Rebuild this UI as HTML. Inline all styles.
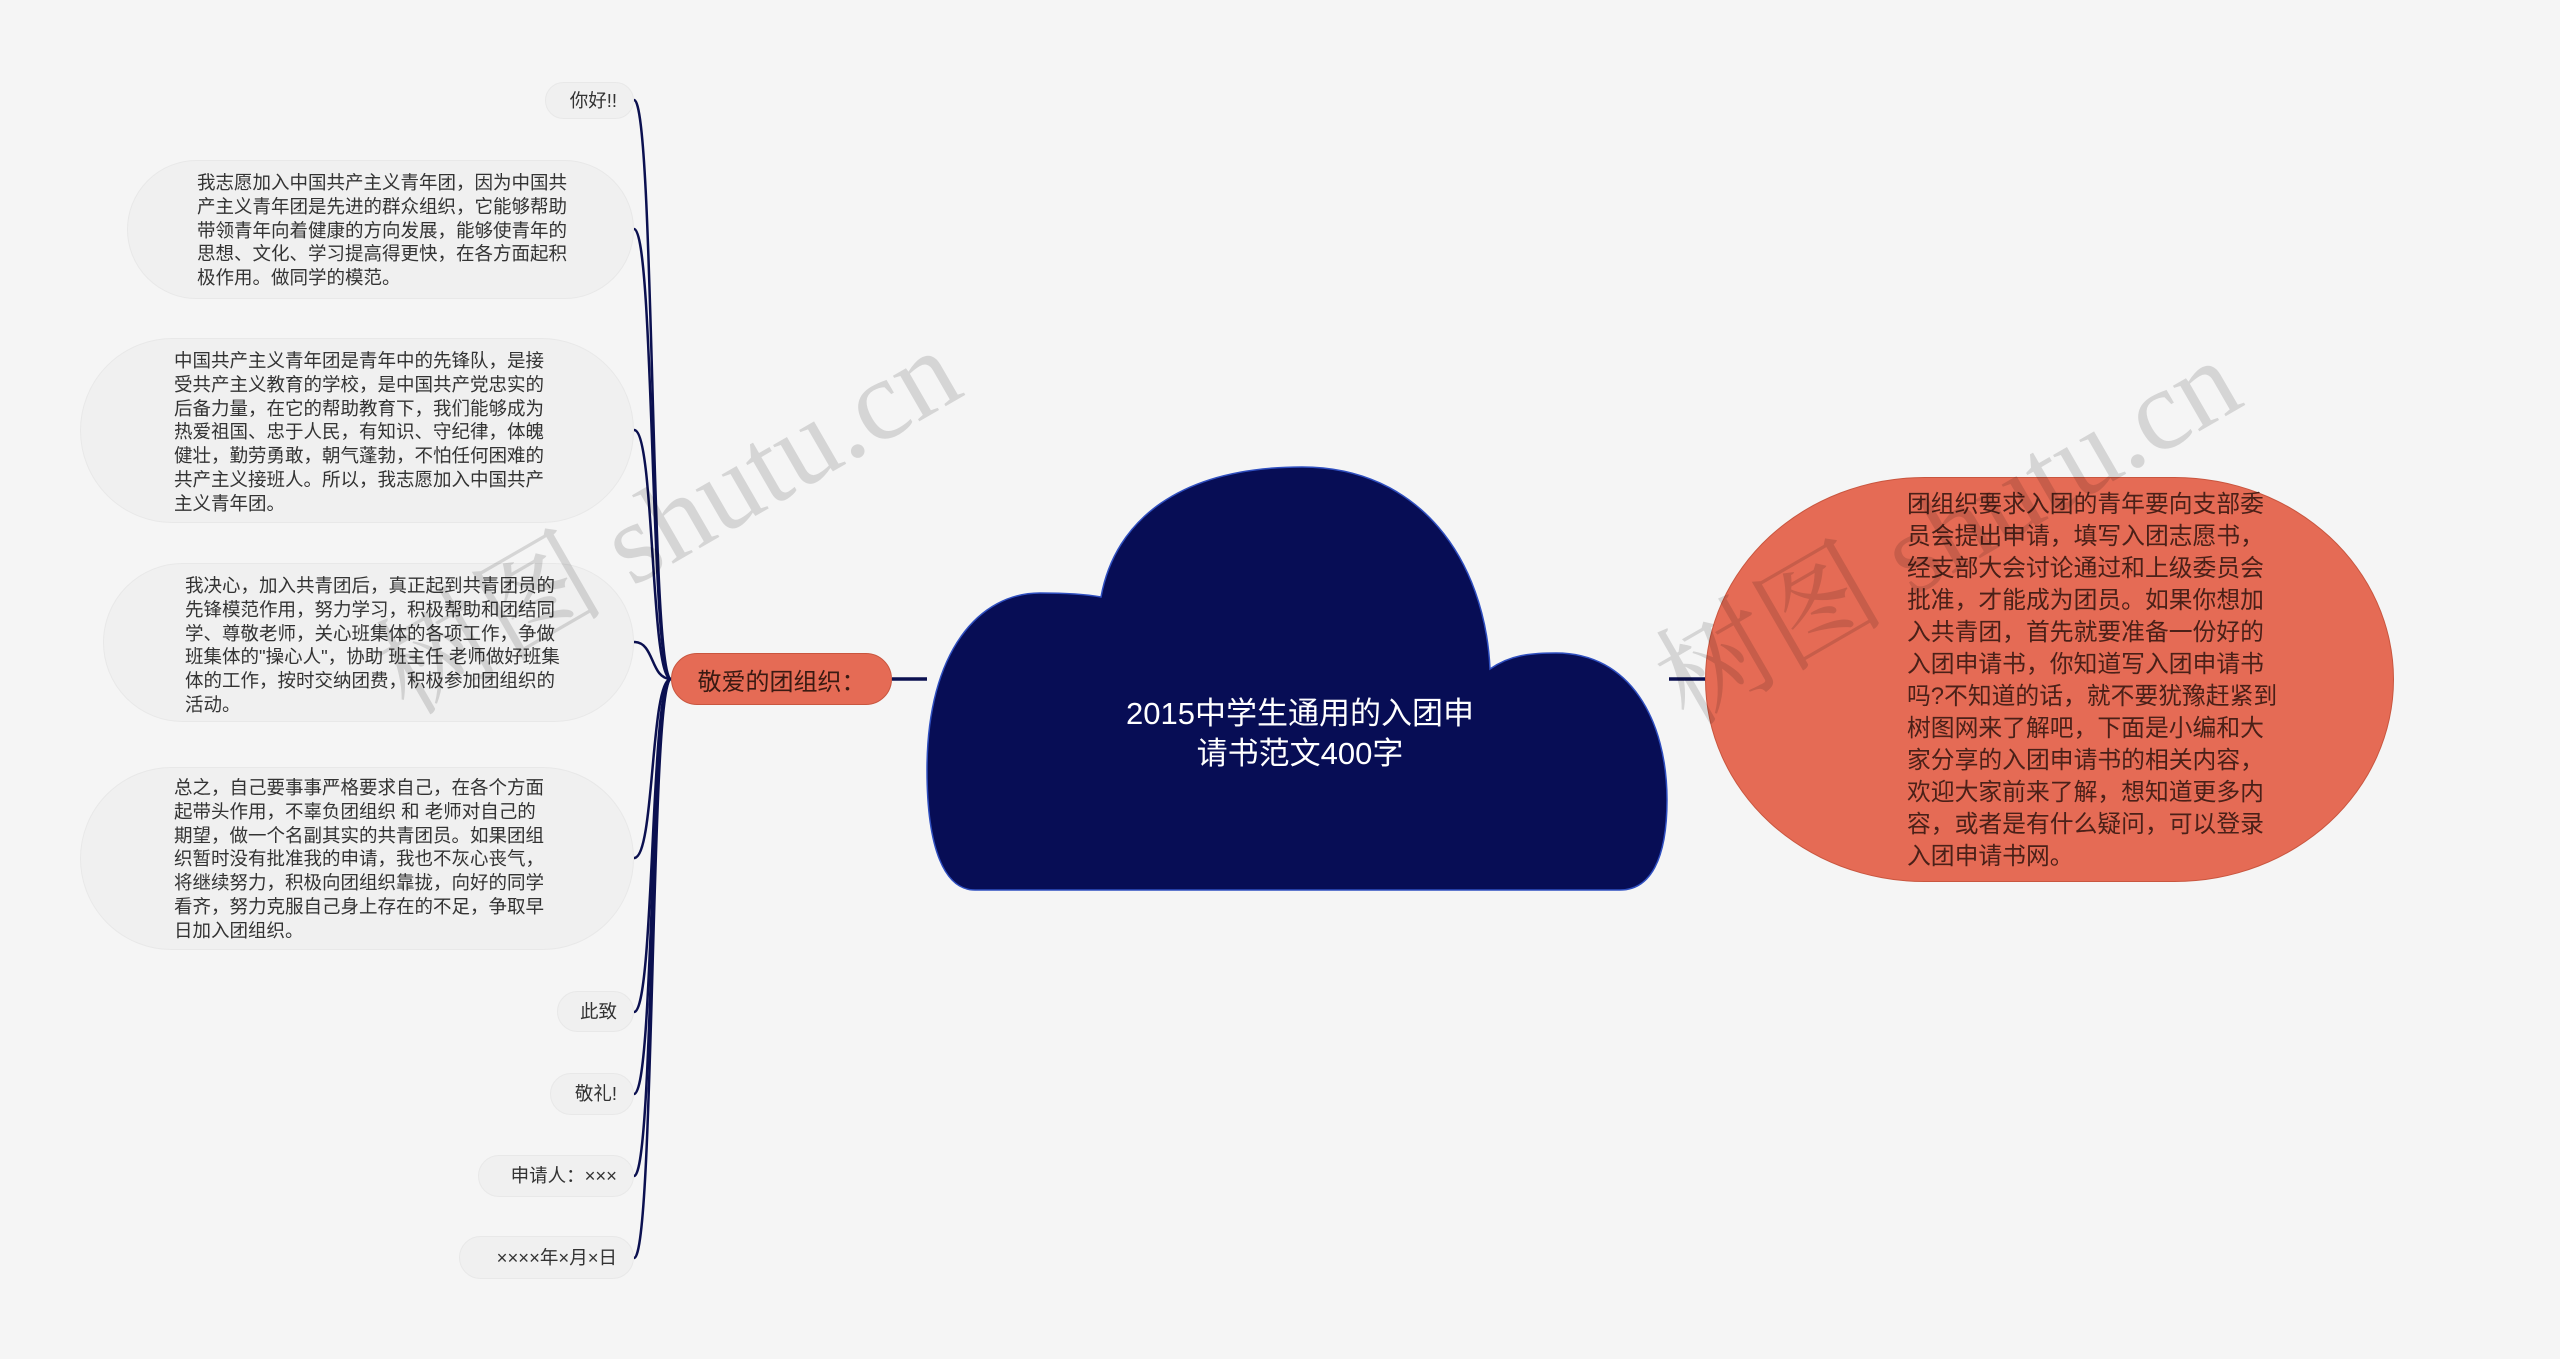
<!DOCTYPE html>
<html><head><meta charset="utf-8"><style>
body{margin:0;width:2560px;height:1359px;background:#f5f5f5;position:relative;overflow:hidden;font-family:"Liberation Sans","Noto Sans CJK SC",sans-serif;}
.leaf{position:absolute;background:#f0f0f0;border:1.5px solid #e8e8e8;border-radius:999px;box-sizing:border-box;color:#333;font-size:18.5px;line-height:23.8px;}
.s{display:flex;align-items:center;justify-content:flex-end;padding-right:16px;}
.t{position:absolute;}
.wm{position:absolute;font-family:"Liberation Serif","Noto Serif CJK SC",serif;font-size:115px;color:rgba(0,0,0,0.13);transform:rotate(-30deg);white-space:nowrap;}
</style></head><body>
<svg width="2560" height="1359" style="position:absolute;left:0;top:0">
<g fill="none" stroke="#0b1050" stroke-width="2.5">
<path d="M671 679 C650 679 655 100 634 100"/>
<path d="M671 679 C650 679 655 229 634 229"/>
<path d="M671 679 C650 679 655 430 634 430"/>
<path d="M671 679 C650 679 655 642 634 642"/>
<path d="M671 679 C650 679 655 858 634 858"/>
<path d="M671 679 C650 679 655 1012 634 1012"/>
<path d="M671 679 C650 679 655 1094 634 1094"/>
<path d="M671 679 C650 679 655 1176 634 1176"/>
<path d="M671 679 C650 679 655 1258 634 1258"/>
<path d="M892 679 L927 679" stroke-width="3.5"/>
<path d="M1669 679 L1705 679" stroke-width="3.5"/>
</g>
<path d="M927 770 C927 650 980 593 1040 593 C1070 593 1090 595 1101 597 C1115 520 1180 467 1302 467 C1420 467 1485 560 1490 669 C1510 655 1530 653 1556 653 C1630 653 1667 720 1667 800 C1667 860 1650 890 1620 890 L975 890 C945 890 927 850 927 770 Z" fill="#070d55" stroke="#2f4fc0" stroke-width="1.5"/>
</svg>
<div class="t" style="left:1060px;top:694px;width:480px;text-align:center;color:#fff;font-size:31px;line-height:40px;">2015中学生通用的入团申<br>请书范文400字</div>
<div style="position:absolute;left:1705px;top:477px;width:689px;height:405px;background:#e56b55;border:1.5px solid #c9563f;box-sizing:border-box;border-radius:220px/203px;"></div>
<div class="t" style="left:1907px;top:489px;width:372px;color:#4a2018;font-size:23.8px;line-height:32px;">团组织要求入团的青年要向支部委员会提出申请，填写入团志愿书，经支部大会讨论通过和上级委员会批准，才能成为团员。如果你想加入共青团，首先就要准备一份好的入团申请书，你知道写入团申请书吗?不知道的话，就不要犹豫赶紧到树图网来了解吧，下面是小编和大家分享的入团申请书的相关内容，欢迎大家前来了解，想知道更多内容，或者是有什么疑问，可以登录入团申请书网。</div>
<div style="position:absolute;left:671px;top:653px;width:221px;height:52px;background:#e56b55;border:1.5px solid #c9563f;box-sizing:border-box;border-radius:26px;color:#3a1a12;font-size:24px;display:flex;align-items:center;justify-content:center;">敬爱的团组织：</div>
<div class="leaf s" style="left:545px;top:82px;width:89px;height:37px;">你好!!</div>
<div class="leaf" style="left:127px;top:160px;width:507px;height:139px;"><div class="t" style="left:69px;top:10px;width:376px;">我志愿加入中国共产主义青年团，因为中国共产主义青年团是先进的群众组织，它能够帮助带领青年向着健康的方向发展，能够使青年的思想、文化、学习提高得更快，在各方面起积极作用。做同学的模范。</div></div>
<div class="leaf" style="left:80px;top:338px;width:554px;height:185px;"><div class="t" style="left:93px;top:10px;width:376px;">中国共产主义青年团是青年中的先锋队，是接受共产主义教育的学校，是中国共产党忠实的后备力量，在它的帮助教育下，我们能够成为热爱祖国、忠于人民，有知识、守纪律，体魄健壮，勤劳勇敢，朝气蓬勃，不怕任何困难的共产主义接班人。所以，我志愿加入中国共产主义青年团。</div></div>
<div class="leaf" style="left:103px;top:563px;width:531px;height:159px;"><div class="t" style="left:81px;top:10px;width:376px;">我决心，加入共青团后，真正起到共青团员的先锋模范作用，努力学习，积极帮助和团结同学、尊敬老师，关心班集体的各项工作，争做班集体的"操心人"，协助 班主任 老师做好班集体的工作，按时交纳团费，积极参加团组织的活动。</div></div>
<div class="leaf" style="left:80px;top:767px;width:554px;height:183px;"><div class="t" style="left:93px;top:8px;width:376px;">总之，自己要事事严格要求自己，在各个方面起带头作用，不辜负团组织 和 老师对自己的期望，做一个名副其实的共青团员。如果团组织暂时没有批准我的申请，我也不灰心丧气，将继续努力，积极向团组织靠拢，向好的同学看齐，努力克服自己身上存在的不足，争取早日加入团组织。</div></div>
<div class="leaf s" style="left:557px;top:991px;width:77px;height:41px;">此致</div>
<div class="leaf s" style="left:550px;top:1073px;width:84px;height:42px;">敬礼!</div>
<div class="leaf s" style="left:478px;top:1155px;width:156px;height:42px;">申请人：×××</div>
<div class="leaf s" style="left:459px;top:1236px;width:175px;height:43px;">××××年×月×日</div>
<div class="wm" style="left:340px;top:430px;">树图 shutu.cn</div>
<div class="wm" style="left:1620px;top:440px;">树图 shutu.cn</div>
</body></html>
